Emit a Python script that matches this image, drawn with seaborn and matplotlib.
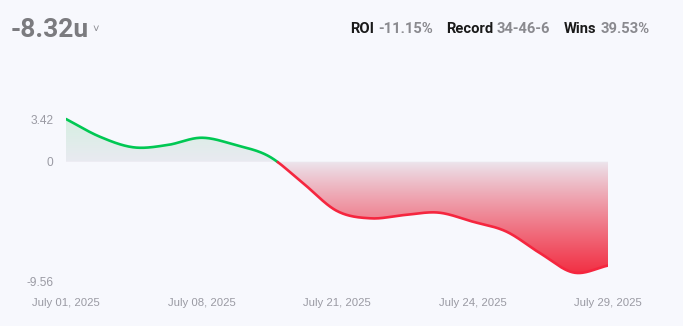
import numpy as np
import pandas as pd
import matplotlib
matplotlib.use("Agg")
import matplotlib.pyplot as plt
import seaborn as sns
from matplotlib.patches import Polygon

# ---- data ----
units = [3.42, 2.00, 1.15, 1.34, 1.92, 1.34, 0.42, -1.73, -3.95,
         -4.54, -4.27, -4.08, -4.80, -5.60, -7.34, -8.89, -8.32]
tick_index = [0, 4, 8, 12, 16]
tick_labels = ["July 01, 2025", "July 08, 2025", "July 21, 2025",
               "July 24, 2025", "July 29, 2025"]
y_ticks = [3.42, 0, -9.56]
y_tick_labels = ["3.42", "0", "-9.56"]
total_label = "-8.32u"
stats = [("ROI", "-11.15%"), ("Record", "34-46-6"), ("Wins", "39.53%")]

BG = "#f7f8fd"
GREEN = "#00c853"
RED = "#f5263f"
GRAY = "#9a9aa3"

sns.set_theme(style="white")
plt.rcParams["font.family"] = ["Liberation Sans", "DejaVu Sans"]

# Catmull-Rom spline for smooth rendering through the data points
def smooth(y, n=40):
    y = np.asarray(y, float)
    p = np.concatenate([[2 * y[0] - y[1]], y, [2 * y[-1] - y[-2]]])
    xs, ys = [], []
    for i in range(len(y) - 1):
        p0, p1, p2, p3 = p[i], p[i + 1], p[i + 2], p[i + 3]
        t = np.linspace(0, 1, n, endpoint=False)
        v = 0.5 * ((2 * p1) + (-p0 + p2) * t + (2 * p0 - 5 * p1 + 4 * p2 - p3) * t ** 2
                   + (-p0 + 3 * p1 - 3 * p2 + p3) * t ** 3)
        xs.append(i + t)
        ys.append(v)
    xs.append([len(y) - 1])
    ys.append([y[-1]])
    return np.concatenate(xs), np.concatenate(ys)

sx, sy = smooth(units)

fig = plt.figure(figsize=(6.83, 3.26), dpi=100, facecolor=BG)
W, H = 683, 326
left_px, right_px, top_px, bot_px = 66, 608, 100, 290
ax = fig.add_axes([left_px / W, 1 - bot_px / H, (right_px - left_px) / W, (bot_px - top_px) / H])
ax.set_facecolor(BG)
ppu = 12.48
zero_px = 161.7
ax.set_xlim(0, len(units) - 1)
ax.set_ylim(-(bot_px - zero_px) / ppu, (zero_px - top_px) / ppu)

# gradient fill clipped to area between curve and zero
ylo, yhi = ax.get_ylim()
ny = 400
yy = np.linspace(yhi, ylo, ny)
img = np.zeros((ny, 2, 4))
for k, v in enumerate(yy):
    if v >= 0:
        f = min(v / 3.42, 1)
        c0 = np.array([233, 234, 241]); c1 = np.array([214, 239, 226])
    else:
        f = min(-v / 8.9, 1) ** 0.9
        c0 = np.array([236, 230, 238]); c1 = np.array([242, 48, 68])
    img[k, :, :3] = (c0 + (c1 - c0) * f) / 255
    img[k, :, 3] = 1
im = ax.imshow(img, extent=[0, len(units) - 1, ylo, yhi], aspect="auto", zorder=1,
               interpolation="bilinear")
poly = Polygon(np.column_stack([np.concatenate([[0], sx, [sx[-1]]]),
                                np.concatenate([[0], sy, [0]])]),
               closed=True, facecolor="none", edgecolor="none", transform=ax.transData)
ax.add_patch(poly)
im.set_clip_path(poly)

# line segments coloured by sign
sign = np.where(sy >= 0, "pos", "neg")
seg = np.cumsum(np.r_[0, sign[1:] != sign[:-1]])
df = pd.DataFrame({"x": sx, "y": sy, "sign": sign, "seg": seg})
for s, g in df.groupby("seg"):
    idx = g.index.max()
    if idx + 1 < len(df):
        g = pd.concat([g, df.loc[[idx + 1]]])
    color = GREEN if g["sign"].iloc[0] == "pos" else RED
    sns.lineplot(data=g, x="x", y="y", sort=False, color=color, lw=1.9, ax=ax,
                 zorder=3, estimator=None)

ax.set_xticks(tick_index)
ax.set_xticklabels(tick_labels, fontsize=8.2, color=GRAY)
ax.set_yticks(y_ticks)
ax.set_yticklabels(y_tick_labels, fontsize=8.6, color=GRAY)
ax.tick_params(axis="x", length=0, pad=6)
ax.tick_params(axis="y", length=0, pad=9)
ax.set_xlabel("")
ax.set_ylabel("")
for sp in ax.spines.values():
    sp.set_visible(False)
ax.grid(False)

renderer = fig.canvas.get_renderer()
# header
tt = fig.text(11 / W, 1 - 30 / H, total_label, fontsize=19, fontweight="bold", color="#7b7b7f",
              family="Roboto", va="center", ha="left")
bb = tt.get_window_extent(renderer)
fig.text((bb.x1 + 7) / W, 1 - 29 / H, "\u02c5", fontsize=8, color="#8a8a90",
         va="center", ha="center")

x = 350
for lab, val in stats:
    t1 = fig.text(x / W, 1 - 29 / H, lab, fontsize=10.6, fontweight="bold", color="#1a1a1a",
                  family="Roboto", va="center", ha="left")
    bb = t1.get_window_extent(renderer)
    x = bb.x1 + 4
    t2 = fig.text(x / W, 1 - 29 / H, val, fontsize=10.6, fontweight="bold", color="#8a8a8f",
                  family="Roboto", va="center", ha="left")
    bb = t2.get_window_extent(renderer)
    x = bb.x1 + 13

fig.savefig("out.png", dpi=100, facecolor=BG)
